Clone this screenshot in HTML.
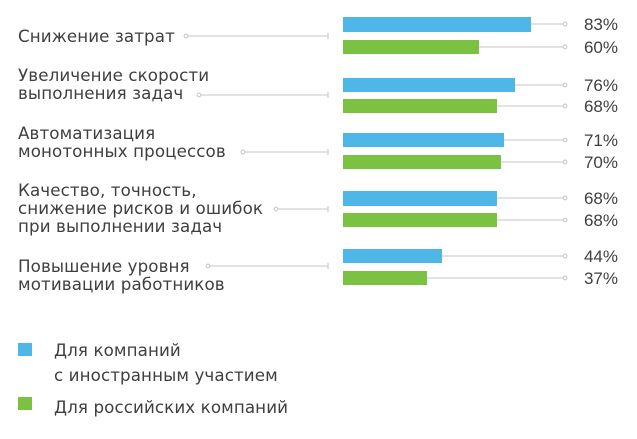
<!DOCTYPE html>
<html><head><meta charset="utf-8"><style>
body{margin:0;background:#fff;}
svg text{font-family:"Liberation Sans","DejaVu Sans",sans-serif;fill:#3f3f3f;}
svg .lab text{font-family:"DejaVu Sans",sans-serif;letter-spacing:0.1px;}
</style></head><body>
<svg width="637" height="434" xmlns="http://www.w3.org/2000/svg">
<g font-size="16.7" class="lab">
<text x="18" y="42">Снижение затрат</text>
<text x="18" y="81">Увеличение скорости</text><text x="18" y="99">выполнения задач</text>
<text x="18" y="139">Автоматизация</text><text x="18" y="157">монотонных процессов</text>
<text x="18" y="196">Качество, точность,</text><text x="18" y="214">снижение рисков и ошибок</text><text x="18" y="232">при выполнении задач</text>
<text x="18" y="272">Повышение уровня</text><text x="18" y="290">мотивации работников</text>
</g>
<g stroke="#d0d0d0" stroke-width="1.3" fill="#fff">
<line x1="187" y1="36" x2="328" y2="36"/><circle cx="186" cy="36" r="1.8"/><line x1="328" y1="33" x2="328" y2="39"/>
<line x1="200" y1="95" x2="328" y2="95"/><circle cx="199" cy="95" r="1.8"/><line x1="328" y1="92" x2="328" y2="98"/>
<line x1="244" y1="152" x2="328" y2="152"/><circle cx="243" cy="152" r="1.8"/><line x1="328" y1="149" x2="328" y2="155"/>
<line x1="277" y1="209" x2="328" y2="209"/><circle cx="276" cy="209" r="1.8"/><line x1="328" y1="206" x2="328" y2="212"/>
<line x1="209" y1="266" x2="328" y2="266"/><circle cx="208" cy="266" r="1.8"/><line x1="328" y1="263" x2="328" y2="269"/>
</g>
<g stroke="#d0d0d0" stroke-width="1.3" fill="#fff">
<line x1="343" y1="24" x2="564" y2="24"/><circle cx="565" cy="24" r="1.8"/>
<line x1="343" y1="47" x2="564" y2="47"/><circle cx="565" cy="47" r="1.8"/>
<line x1="343" y1="85" x2="564" y2="85"/><circle cx="565" cy="85" r="1.8"/>
<line x1="343" y1="106" x2="564" y2="106"/><circle cx="565" cy="106" r="1.8"/>
<line x1="343" y1="140" x2="564" y2="140"/><circle cx="565" cy="140" r="1.8"/>
<line x1="343" y1="162" x2="564" y2="162"/><circle cx="565" cy="162" r="1.8"/>
<line x1="343" y1="198" x2="564" y2="198"/><circle cx="565" cy="198" r="1.8"/>
<line x1="343" y1="220" x2="564" y2="220"/><circle cx="565" cy="220" r="1.8"/>
<line x1="343" y1="256" x2="564" y2="256"/><circle cx="565" cy="256" r="1.8"/>
<line x1="343" y1="278" x2="564" y2="278"/><circle cx="565" cy="278" r="1.8"/>
</g>
<g fill="#4fb6e8">
<rect x="343" y="17" width="188" height="15"/>
<rect x="343" y="78" width="172" height="14"/>
<rect x="343" y="133" width="161" height="14"/>
<rect x="343" y="191" width="154" height="15"/>
<rect x="343" y="249" width="99" height="14"/>
</g>
<g fill="#7cc242">
<rect x="343" y="40" width="136" height="14"/>
<rect x="343" y="99" width="154" height="14"/>
<rect x="343" y="155" width="158" height="14"/>
<rect x="343" y="213" width="154" height="14"/>
<rect x="343" y="271" width="84" height="14"/>
</g>
<g font-size="17" text-anchor="end">
<text x="618" y="30">83%</text><text x="618" y="53">60%</text>
<text x="618" y="91">76%</text><text x="618" y="112">68%</text>
<text x="618" y="146">71%</text><text x="618" y="168">70%</text>
<text x="618" y="204">68%</text><text x="618" y="226">68%</text>
<text x="618" y="262">44%</text><text x="618" y="284">37%</text>
</g>
<rect x="18" y="343" width="14" height="13" fill="#4fb6e8"/>
<rect x="18" y="397" width="14" height="13" fill="#7cc242"/>
<g font-size="16.7" class="lab">
<text x="54" y="356">Для компаний</text>
<text x="54" y="381">с иностранным участием</text>
<text x="54" y="413">Для российских компаний</text>
</g>
</svg>
</body></html>
